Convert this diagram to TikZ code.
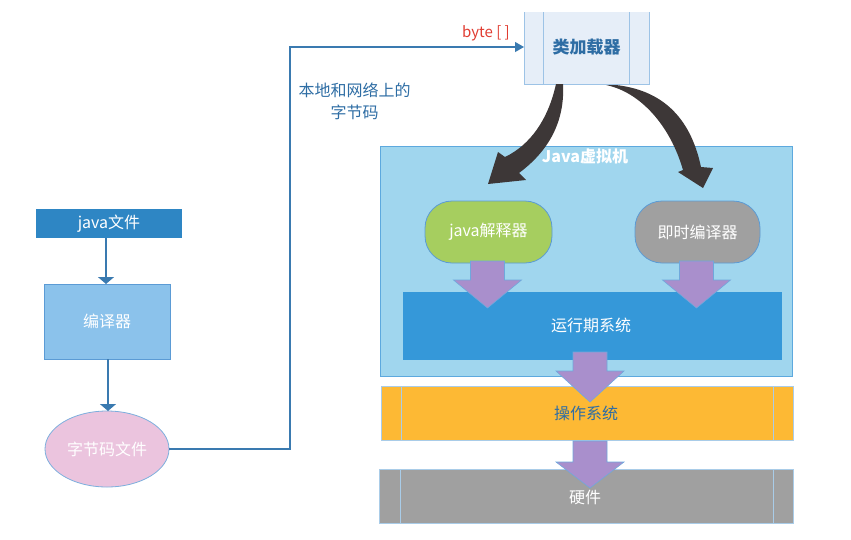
\documentclass[tikz,border=0pt]{standalone}
\usepackage{fontspec}
\setmainfont{Noto Sans CJK SC}
\usetikzlibrary{arrows.meta,shapes.geometric}
\definecolor{jfblue}{HTML}{2E86C4}
\definecolor{cpblue}{HTML}{8BC2EB}
\definecolor{bordblue}{HTML}{5B9BD5}
\definecolor{lightbord}{HTML}{A9CCE8}
\definecolor{pinkfill}{HTML}{EBC4DE}
\definecolor{linkblue}{HTML}{3A7AB0}
\definecolor{clfill}{HTML}{E6EEF8}
\definecolor{clbord}{HTML}{9DC3E6}
\definecolor{vmfill}{HTML}{A0D6EE}
\definecolor{vmbord}{HTML}{5DA9DE}
\definecolor{greenfill}{HTML}{A6CE5F}
\definecolor{grayfill}{HTML}{A0A0A0}
\definecolor{rtfill}{HTML}{3598D9}
\definecolor{purplefill}{HTML}{A98FCC}
\definecolor{purplebord}{HTML}{6FA8DC}
\definecolor{osfill}{HTML}{FDB934}
\definecolor{darkarrow}{HTML}{3D3737}
\definecolor{textblue}{HTML}{2E6DA4}
\definecolor{bytered}{HTML}{E03C31}
\newcommand\purplearrow[4]{\draw[blockarr] (#1-17,#2) -- (#1+17,#2) -- (#1+17,#3) -- (#1+34,#3) -- (#1,#4) -- (#1-34,#3) -- (#1-17,#3) -- cycle;}
\begin{document}
\begin{tikzpicture}[x=1pt,y=-1pt,
  every node/.style={inner sep=0pt,outer sep=0pt},
  lbl/.style={font=\fontsize{16}{18}\selectfont, text=white},
  flowarr/.style={draw=linkblue,line width=1.2pt,-{Triangle[width=16pt,length=7pt]}},
  blockarr/.style={fill=purplefill,draw=purplebord,line width=0.6pt},
  darkarr/.style={fill=darkarrow,draw=none}]
\useasboundingbox (0,0) rectangle (851,539);
% left flow
\node[lbl,fill=jfblue,minimum width=146pt,minimum height=29pt] (jf) at (109,223.5) {java文件};
\node[lbl,fill=cpblue,draw=bordblue,line width=0.8pt,minimum width=126pt,minimum height=75pt] (cp) at (107,321.5) {编译器};
\node[lbl,ellipse,fill=pinkfill,draw=bordblue!80,line width=0.8pt,minimum width=124pt,minimum height=76pt] (bc) at (107,449) {字节码文件};
\draw[flowarr] (jf.south -| 106,0) -- (106,284);
\draw[flowarr] (cp.south -| 108,0) -- (bc.north -| 108,0);
% class loader
\fill[clfill] (524,12) rectangle (649,84);
\draw[clbord,line width=1pt] (524,12) -- (524,84) -- (649,84) -- (649,12);
\draw[clbord,line width=1pt] (543,12) -- (543,84) (629,12) -- (629,84);
\node[font=\fontsize{17}{19}\selectfont\bfseries,text=textblue] (cl) at (586.5,47) {类加载器};
\coordinate (clw) at (524,47);
\draw[linkblue,line width=1.1pt,-{Triangle[width=10pt,length=9pt]}] (bc.east) -- (290,449) -- (290,47) -- (clw);
\node[font=\fontsize{15}{17}\selectfont,text=bytered] (bt) at (486,33) {byte [ ]};
\node[font=\fontsize{16}{22}\selectfont,text=textblue,align=center] (net) at (354.5,101) {本地和网络上的\\字节码};
% JVM
\node[fill=vmfill,draw=vmbord,line width=1pt,minimum width=412pt,minimum height=230pt] (vm) at (586.5,261) {};
\node[font=\fontsize{16}{18}\selectfont\bfseries,text=white] (vml) at (585,156) {Java虚拟机};
\node[fill=rtfill,minimum width=379pt,minimum height=68pt] (rt) at (592.5,326) {};
\node[lbl] (rtl) at (591,325) {运行期系统};
\node[lbl,fill=greenfill,draw=bordblue,line width=0.8pt,rounded corners=27pt,minimum width=127pt,minimum height=62pt] (ji) at (488.5,232) {java解释器};
\node[lbl,fill=grayfill,draw=bordblue,line width=0.8pt,rounded corners=27pt,minimum width=125pt,minimum height=62pt] (jit) at (697.5,232) {即时编译器};
% OS and hardware
\node[fill=osfill,draw=lightbord,line width=1pt,minimum width=412pt,minimum height=54pt] (os) at (587,413) {};
\draw[lightbord,line width=1pt] (401,386) -- (401,440) (773,386) -- (773,440);
\node[fill=grayfill,draw=lightbord,line width=1pt,minimum width=414pt,minimum height=54pt] (hw) at (586,496) {};
\draw[lightbord,line width=1pt] (400,469) -- (400,523) (773,469) -- (773,523);
% purple block arrows
\purplearrow{487.5}{261}{280}{308}
\purplearrow{696.5}{261}{280}{308}
\purplearrow{590}{352}{371}{402}
\purplearrow{590}{441}{462}{488}
\node[font=\fontsize{16}{18}\selectfont,text=textblue] (osl) at (586,413) {操作系统};
\node[lbl] (hwl) at (585,497) {硬件};
% dark curved arrows
\fill[darkarr] (556,84) .. controls (548,120) and (530,145) .. (505,157) -- (498,152) -- (488,184) -- (526,180) -- (519,173) .. controls (550,150) and (565,120) .. (563,84) -- cycle;
\fill[darkarr] (606,85) .. controls (640,92) and (670,125) .. (683,170) -- (678,172) -- (703,188) -- (713,168) -- (701,167) .. controls (690,115) and (660,90) .. (616,85) -- cycle;
\end{tikzpicture}
\end{document}
